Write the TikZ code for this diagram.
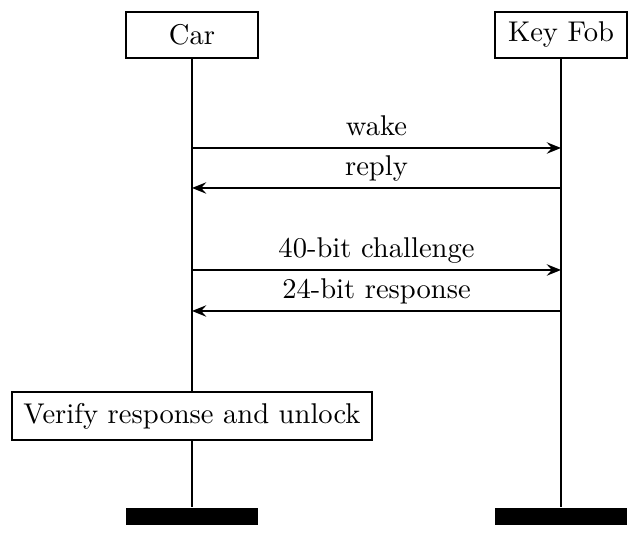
\documentclass[tikz,border=0pt]{standalone}
\usetikzlibrary{arrows.meta}
\begin{document}
\begin{tikzpicture}[x=0.35pt,y=-0.35pt,line width=0.7pt,>={Stealth[length=5pt,width=4pt,inset=1.8pt]}]
  \useasboundingbox (0,0) rectangle (636,542);
  \tikzset{party/.style={draw,minimum width=46.2pt,minimum height=16.1pt,inner sep=0pt},
           bar/.style={fill=black,minimum width=46.2pt,minimum height=6pt,inner sep=0pt},
           msg/.style={midway,above,text depth=0pt,inner ysep=4pt}}
  \node[party] (car) at (192,35) {Car};
  \node[party] (fob) at (561,35) {Key Fob};
  \node[draw,minimum height=16.5pt,inner xsep=4pt] (verify) at (192,416) {Verify response and unlock};
  \node[bar,anchor=north] (carend) at (192,507) {};
  \node[bar,anchor=north] (fobend) at (561,507) {};
  % lifelines
  \draw (car) -- (verify) -- (carend);
  \draw (fob) -- (fobend);
  % messages
  \coordinate (c1) at (192,148); \coordinate (f1) at (561,148);
  \coordinate (c2) at (192,188); \coordinate (f2) at (561,188);
  \coordinate (c3) at (192,270); \coordinate (f3) at (561,270);
  \coordinate (c4) at (192,311); \coordinate (f4) at (561,311);
  \draw[->] (c1) -- (f1) node[msg] {wake};
  \draw[->] (f2) -- (c2) node[msg] {reply};
  \draw[->] (c3) -- (f3) node[msg] {40-bit challenge};
  \draw[->] (f4) -- (c4) node[msg] {24-bit response};
\end{tikzpicture}
\end{document}
